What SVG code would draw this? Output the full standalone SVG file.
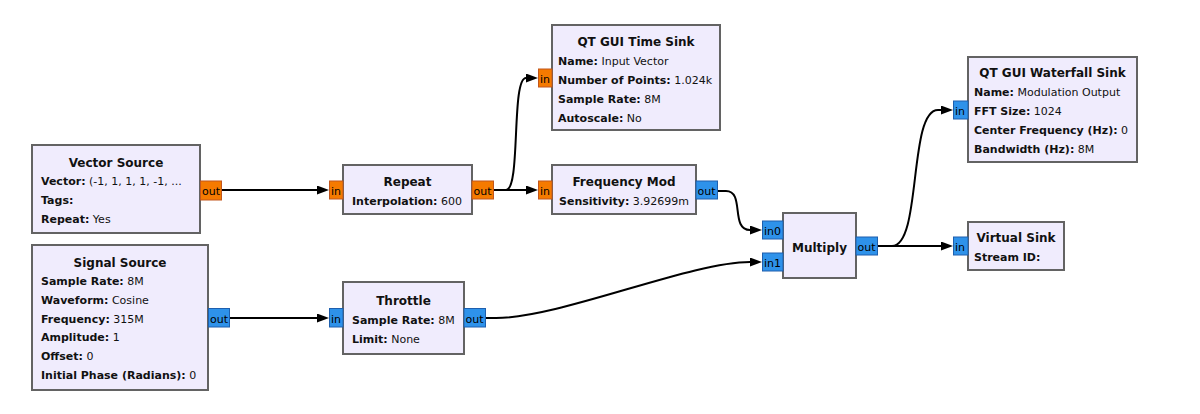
<svg xmlns="http://www.w3.org/2000/svg" width="1200" height="414" viewBox="0 0 1200 414">
<style>
.blk{fill:#f0ecfd;stroke:#636363;stroke-width:2}
.po{fill:#f57a00;stroke:#c2561d;stroke-width:1}
.pb{fill:#2e92ea;stroke:#1e5fae;stroke-width:1}
text{font-family:"DejaVu Sans","Noto Sans",sans-serif;font-size:11px;fill:#111}
.t{font-weight:bold;text-anchor:middle;font-size:12px}
.k{font-weight:bold}
.pt{font-size:11px;fill:#000}
.c{fill:none;stroke:#000;stroke-width:2}
</style>
<defs>
<marker id="ah" markerUnits="userSpaceOnUse" markerWidth="13" markerHeight="10" refX="9" refY="4.5" orient="auto">
<path d="M0,0 L12,4.5 L0,9 z" fill="#000"/>
</marker>
</defs>
<rect width="1200" height="414" fill="#ffffff"/>

<g id="connectors">
<path class="c" marker-end="url(#ah)" d="M222,190 H326"/>
<path class="c" marker-end="url(#ah)" d="M494,190 H535"/>
<path class="c" marker-end="url(#ah)" d="M494,190 H506 C521,190 511,78 526,78 H535"/>
<path class="c" marker-end="url(#ah)" d="M718,191 H726 C745,191 730,230 750,230 H759"/>
<path class="c" marker-end="url(#ah)" d="M230,318 H326"/>
<path class="c" marker-end="url(#ah)" d="M486,318 H496 C560,318 690,262 750,262 H759"/>
<path class="c" marker-end="url(#ah)" d="M878,246 H950"/>
<path class="c" marker-end="url(#ah)" d="M878,246 H892 C922,246 908,110 938,110 H950"/>
</g>

<g id="vector_source">
<rect class="blk" x="32" y="145" width="168" height="88"/>
<text class="t" x="116" y="166.7">Vector Source</text>
<text x="41" y="185.4"><tspan class="k">Vector:</tspan> (-1, 1, 1, 1, -1, ...</text>
<text x="41" y="204.1"><tspan class="k">Tags:</tspan></text>
<text x="41" y="222.8"><tspan class="k">Repeat:</tspan> Yes</text>
<rect class="po" x="200.5" y="181" width="21" height="19"/>
<text class="pt" x="202" y="195">out</text>
</g>

<g id="signal_source">
<rect class="blk" x="32" y="245" width="176" height="145"/>
<text class="t" x="120" y="266.6">Signal Source</text>
<text x="41" y="285.3"><tspan class="k">Sample Rate:</tspan> 8M</text>
<text x="41" y="304"><tspan class="k">Waveform:</tspan> Cosine</text>
<text x="41" y="322.7"><tspan class="k">Frequency:</tspan> 315M</text>
<text x="41" y="341.4"><tspan class="k">Amplitude:</tspan> 1</text>
<text x="41" y="360.1"><tspan class="k">Offset:</tspan> 0</text>
<text x="41" y="378.8"><tspan class="k">Initial Phase (Radians):</tspan> 0</text>
<rect class="pb" x="208.5" y="308.5" width="21" height="18.5"/>
<text class="pt" x="210" y="322.5">out</text>
</g>

<g id="repeat">
<rect class="blk" x="343" y="165" width="129" height="49"/>
<text class="t" x="407.5" y="186">Repeat</text>
<text x="352" y="205"><tspan class="k">Interpolation:</tspan> 600</text>
<rect class="po" x="329.5" y="181" width="13.5" height="18"/>
<text class="pt" x="331" y="195">in</text>
<rect class="po" x="472" y="181" width="21.5" height="18"/>
<text class="pt" x="473.5" y="195">out</text>
</g>

<g id="frequency_mod">
<rect class="blk" x="552" y="165" width="144" height="49"/>
<text class="t" x="624" y="186">Frequency Mod</text>
<text x="559" y="205"><tspan class="k">Sensitivity:</tspan> 3.92699m</text>
<rect class="po" x="538.5" y="181" width="13.5" height="18"/>
<text class="pt" x="540" y="195">in</text>
<rect class="pb" x="696" y="181" width="21.5" height="18"/>
<text class="pt" x="697.5" y="195">out</text>
</g>

<g id="qt_time_sink">
<rect class="blk" x="552" y="25" width="168" height="105"/>
<text class="t" x="636" y="45.7">QT GUI Time Sink</text>
<text x="558" y="65"><tspan class="k">Name:</tspan> Input Vector</text>
<text x="558" y="84"><tspan class="k">Number of Points:</tspan> 1.024k</text>
<text x="558" y="102.7"><tspan class="k">Sample Rate:</tspan> 8M</text>
<text x="558" y="121.7"><tspan class="k">Autoscale:</tspan> No</text>
<rect class="po" x="538.5" y="69" width="13.5" height="18"/>
<text class="pt" x="540" y="83">in</text>
</g>

<g id="throttle">
<rect class="blk" x="343" y="282" width="121" height="72"/>
<text class="t" x="403.5" y="304.5">Throttle</text>
<text x="352" y="324"><tspan class="k">Sample Rate:</tspan> 8M</text>
<text x="352" y="342.7"><tspan class="k">Limit:</tspan> None</text>
<rect class="pb" x="329.5" y="308.5" width="13.5" height="18.5"/>
<text class="pt" x="331" y="322.5">in</text>
<rect class="pb" x="464" y="308.5" width="21.5" height="18.5"/>
<text class="pt" x="465.5" y="322.5">out</text>
</g>

<g id="multiply">
<rect class="blk" x="783" y="213" width="73" height="65"/>
<text class="t" x="819.5" y="251.7">Multiply</text>
<rect class="pb" x="762.5" y="221" width="20.5" height="18"/>
<text class="pt" x="764" y="235">in0</text>
<rect class="pb" x="762.5" y="253" width="20.5" height="18"/>
<text class="pt" x="764" y="267">in1</text>
<rect class="pb" x="856" y="237" width="21.5" height="18"/>
<text class="pt" x="857.5" y="251">out</text>
</g>

<g id="qt_waterfall_sink">
<rect class="blk" x="968" y="57" width="169" height="105"/>
<text class="t" x="1052.5" y="77.3">QT GUI Waterfall Sink</text>
<text x="974" y="96"><tspan class="k">Name:</tspan> Modulation Output</text>
<text x="974" y="115"><tspan class="k">FFT Size:</tspan> 1024</text>
<text x="974" y="134"><tspan class="k">Center Frequency (Hz):</tspan> 0</text>
<text x="974" y="152.7"><tspan class="k">Bandwidth (Hz):</tspan> 8M</text>
<rect class="pb" x="953.5" y="101" width="14.5" height="18"/>
<text class="pt" x="955" y="115">in</text>
</g>

<g id="virtual_sink">
<rect class="blk" x="968" y="222" width="96" height="48"/>
<text class="t" x="1016" y="241.7">Virtual Sink</text>
<text x="974" y="260.7"><tspan class="k">Stream ID:</tspan></text>
<rect class="pb" x="953.5" y="237" width="14.5" height="18"/>
<text class="pt" x="955" y="251">in</text>
</g>
</svg>
